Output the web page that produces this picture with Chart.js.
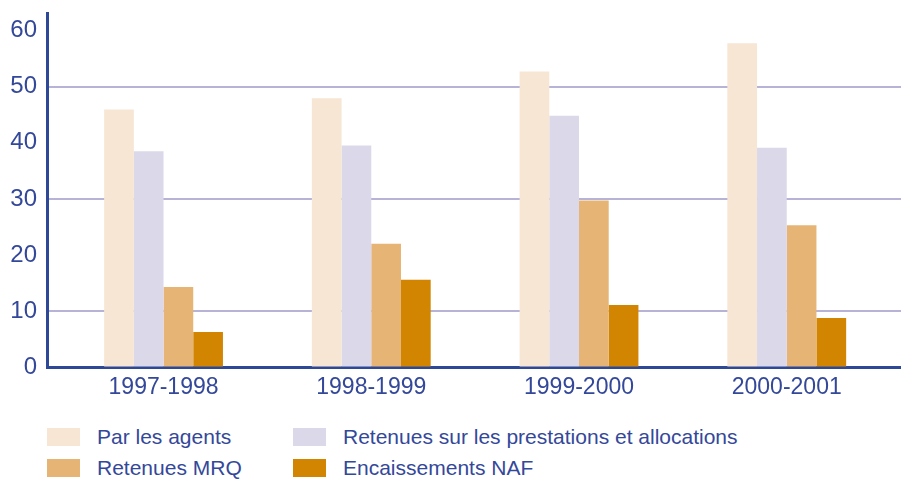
<!DOCTYPE html>
<html>
<head>
<meta charset="utf-8">
<script src="https://cdn.jsdelivr.net/npm/chart.js@4.4.1/dist/chart.umd.min.js"></script>
<style>
  html, body { margin: 0; padding: 0; background: #ffffff; }
  #wrap { position: relative; width: 901px; height: 480px; overflow: hidden; }
  #c { position: absolute; left: 0; top: 0; }
  .lg { position: absolute; display: flex; align-items: center; font-family: "Liberation Sans", Arial, sans-serif; font-size: 21px; color: #34489a; white-space: nowrap; }
  .lg .bx { width: 33px; height: 18px; margin-right: 17px; }
</style>
</head>
<body>
<div id="wrap">
  <canvas id="c" width="901" height="410"></canvas>
  <div id="legend"></div>
</div>
<script>
// ---- data ----
const categories = ["1997-1998", "1998-1999", "1999-2000", "2000-2001"];
const seriesNames = ["Par les agents", "Retenues sur les prestations et allocations", "Retenues MRQ", "Encaissements NAF"];
const parLesAgents = [45.9, 47.9, 52.7, 57.7];
const retenuesPrestations = [38.5, 39.5, 44.8, 39.1];
const retenuesMRQ = [14.3, 22.0, 29.7, 25.3];
const encaissementsNAF = [6.3, 15.6, 11.1, 8.8];
const yTickValues = [0, 10, 20, 30, 40, 50, 60];
const yGridValues = [10, 30, 50];

const seriesValues = [parLesAgents, retenuesPrestations, retenuesMRQ, encaissementsNAF];
const colors = ["#f7e6d3", "#dbd8ea", "#e6b475", "#d28500"];
const textColor = "#34489a";
const axisColor = "#2d4896";
const X_MIN = -0.561, X_MAX = 3.55;

const datasets = seriesValues.map((vals, k) => ({
  label: seriesNames[k],
  data: vals.map((v, i) => ({ x: i, y: v })),
  backgroundColor: colors[k],
  borderWidth: 0,
  categoryPercentage: 0.572,
  barPercentage: 1.0
}));

const chart = new Chart(document.getElementById("c"), {
  type: "bar",
  data: { datasets },
  options: {
    responsive: false,
    animation: false,
    layout: { padding: { top: 13, right: 0, bottom: 3, left: 0 } },
    plugins: { legend: { display: false }, tooltip: { enabled: false } },
    scales: {
      x: {
        type: "linear",
        offset: false,
        bounds: "data",
        min: X_MIN,
        max: X_MAX,
        grid: { display: false, drawTicks: false, offset: false },
        border: { display: true, color: axisColor, width: 3 },
        afterBuildTicks: (s) => {
          s.ticks = categories.map((c, i) => ({ value: i }));
          s.min = X_MIN; s.max = X_MAX;
        },
        afterFit: (s) => { s.paddingLeft = 0; s.paddingRight = 0; },
        ticks: {
          padding: 6,
          color: textColor,
          font: { family: "'Liberation Sans', Arial, sans-serif", size: 23 },
          callback: (v) => categories[v] !== undefined ? categories[v] : ""
        }
      },
      y: {
        min: 0,
        max: 63.1,
        afterFit: (s) => { s.width = 47; s.paddingTop = 0; s.paddingBottom = 0; },
        afterBuildTicks: (s) => { s.ticks = yTickValues.map(v => ({ value: v })); },
        grid: {
          drawTicks: false,
          lineWidth: 2,
          color: (ctx) => (ctx.tick && yGridValues.includes(ctx.tick.value)) ? "#b6b3d6" : "rgba(0,0,0,0)"
        },
        border: { display: true, color: axisColor, width: 3 },
        ticks: {
          padding: 10,
          color: textColor,
          font: { family: "'Liberation Sans', Arial, sans-serif", size: 24 }
        }
      }
    }
  }
});

// ---- HTML legend built from the datasets ----
const legendPos = [
  { left: 47, top: 428 },
  { left: 293, top: 428 },
  { left: 47, top: 459 },
  { left: 293, top: 459 }
];
const legendEl = document.getElementById("legend");
chart.data.datasets.forEach((ds, k) => {
  const item = document.createElement("div");
  item.className = "lg";
  item.style.left = legendPos[k].left + "px";
  item.style.top = (legendPos[k].top - 2) + "px";
  item.style.height = "22px";
  const bx = document.createElement("span");
  bx.className = "bx";
  bx.style.background = ds.backgroundColor;
  const tx = document.createElement("span");
  tx.textContent = ds.label;
  item.appendChild(bx);
  item.appendChild(tx);
  legendEl.appendChild(item);
});
</script>
</body>
</html>
